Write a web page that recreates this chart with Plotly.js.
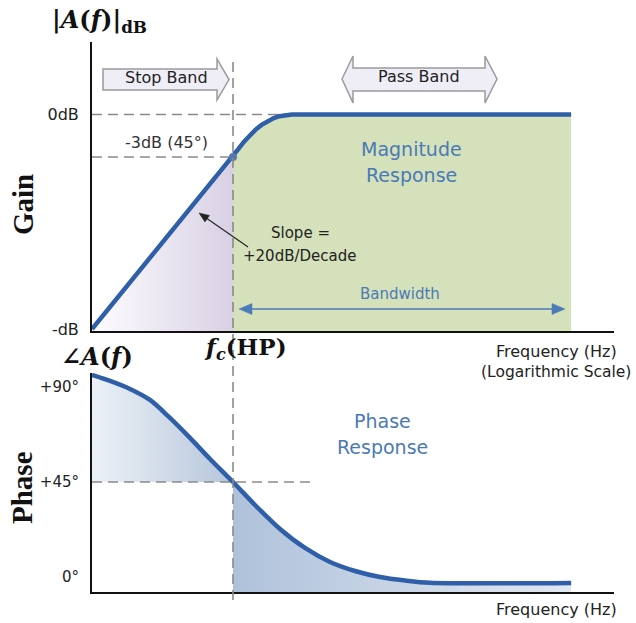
<!DOCTYPE html>
<html>
<head>
<meta charset="utf-8">
<script src="https://cdn.plot.ly/plotly-3.0.1.min.js"></script>
<style>html,body{margin:0;padding:0;background:#fff;}#chart{width:636px;height:623px;}</style>
</head>
<body>
<div id="chart"></div>
<script>
// ---- data ----
const fc = 1;                                   // cut-off frequency (normalised)
const magFreq = [0.1, 1.0, 1.093, 1.197, 1.313, 1.442, 1.586, 1.748, 1.930, 2.134, 2.363, 2.62, 250];
const magDb   = [-15.14, -3.0, -2.43, -1.92, -1.47, -1.08, -0.75, -0.48, -0.27, -0.12, -0.03, 0, 0];
const phaseFreq = [0.1, 0.1342, 0.186, 0.2578, 0.3574, 0.4955, 0.6869, 1.0, 1.432, 2.154, 3.241, 4.875, 7.335, 11.03, 16.6, 24.96, 250];
const phaseDeg  = [95.7, 92.85, 89.06, 83.85, 75.32, 65.85, 55.9, 45.0, 34.11, 22.74, 13.74, 7.11, 2.84, 0.0, -1.66, -2.75, -2.8];
const magTickVals = [0, -15.2];
const magTickText = ['0dB', '-dB'];
const phaseTickVals = [90, 45, 0];
const phaseTickText = ['+90°', '+45°', '0°'];

// ---- axes ----
const xRange = [-1, 2.702];
const magRange = [-15.28, 5.12];
const phaseRange = [-7.1, 96.6];

const blue = '#2f5fa8';
const dashCol = '#8a8a8a';
const textBlue = '#4a7ab5';

function sub(fArr, vArr, test) {
  const x = [], y = [];
  fArr.forEach((f, i) => { if (test(f)) { x.push(f); y.push(vArr[i]); } });
  return {x, y};
}
const magLo = sub(magFreq, magDb, f => f <= fc);
const magHi = sub(magFreq, magDb, f => f >= fc);
const phLo = sub(phaseFreq, phaseDeg, f => f <= fc);
const phHi = sub(phaseFreq, phaseDeg, f => f >= fc);
const fMin = magFreq[0], fMax = magFreq[magFreq.length - 1];

const base = {mode: 'lines', hoverinfo: 'skip', showlegend: false};
const traces = [
  // magnitude: purple stop-band area
  Object.assign({}, base, {x: [fMin, fc], y: [magRange[0], magRange[0]], line: {width: 0}, xaxis: 'x', yaxis: 'y'}),
  Object.assign({}, base, {x: magLo.x, y: magLo.y, line: {width: 0}, fill: 'tonexty',
    fillgradient: {type: 'horizontal', colorscale: [[0, '#fefdff'], [1, '#d8d0e4']]}, xaxis: 'x', yaxis: 'y'}),
  // magnitude: green pass-band area
  Object.assign({}, base, {x: [fc, fMax], y: [magRange[0], magRange[0]], line: {width: 0}, xaxis: 'x', yaxis: 'y'}),
  Object.assign({}, base, {x: magHi.x, y: magHi.y, line: {width: 0}, fill: 'tonexty', fillcolor: '#d5e1bb', xaxis: 'x', yaxis: 'y'}),
  // phase: left area (curve to +45°)
  Object.assign({}, base, {x: [fMin, fc], y: [45, 45], line: {width: 0}, xaxis: 'x2', yaxis: 'y2'}),
  Object.assign({}, base, {x: phLo.x, y: phLo.y, line: {width: 0, shape: 'spline', smoothing: 0.8}, fill: 'tonexty',
    fillgradient: {type: 'horizontal', colorscale: [[0, '#edf1f7'], [1, '#b6c6dc']]}, xaxis: 'x2', yaxis: 'y2'}),
  // phase: right area (curve to axis)
  Object.assign({}, base, {x: [fc, fMax], y: [phaseRange[0], phaseRange[0]], line: {width: 0}, xaxis: 'x2', yaxis: 'y2'}),
  Object.assign({}, base, {x: phHi.x, y: phHi.y, line: {width: 0, shape: 'spline', smoothing: 0.8}, fill: 'tonexty',
    fillgradient: {type: 'horizontal', colorscale: [[0, '#afc2db'], [1, '#e2e8f1']]}, xaxis: 'x2', yaxis: 'y2'}),
  // dashed reference lines
  Object.assign({}, base, {x: [fMin, 2.6], y: [0, 0], line: {color: dashCol, width: 1.6, dash: '10px,6px'}, xaxis: 'x', yaxis: 'y'}),
  Object.assign({}, base, {x: [fMin, fc], y: [-3, -3], line: {color: dashCol, width: 1.6, dash: '10px,6px'}, xaxis: 'x', yaxis: 'y'}),
  Object.assign({}, base, {x: [fMin, 3.6], y: [45, 45], line: {color: dashCol, width: 1.6, dash: '10px,6px'}, xaxis: 'x2', yaxis: 'y2'}),
  // main curves
  Object.assign({}, base, {x: magFreq, y: magDb, line: {color: blue, width: 4.5}, xaxis: 'x', yaxis: 'y'}),
  Object.assign({}, base, {x: phaseFreq, y: phaseDeg, line: {color: blue, width: 4.5, shape: 'spline', smoothing: 0.8}, xaxis: 'x2', yaxis: 'y2'}),
  // -3dB point
  {x: [fc], y: [-3], mode: 'markers', marker: {color: '#5678a8', size: 8}, hoverinfo: 'skip', showlegend: false, xaxis: 'x', yaxis: 'y'}
];

// pixel -> paper helpers for decorations
const L = 92, R = 614, T = 42, B = 592;
const PX = x => (x - L) / (R - L);
const PY = y => (B - y) / (B - T);
const fcPaper = (Math.log10(fc) - xRange[0]) / (xRange[1] - xRange[0]);

const sans = 'DejaVu Sans, Arial, sans-serif';
const serif = 'Liberation Serif, Times New Roman, serif';
const mathF = 'DejaVu Serif, serif';

function txt(x, y, text, size, color, family, extra) {
  return Object.assign({xref: 'paper', yref: 'paper', x: PX(x), y: PY(y), text: text, showarrow: false,
    xanchor: 'center', yanchor: 'middle', font: {size: size, color: color, family: family}}, extra || {});
}

const annotations = [
  txt(99, 21, '<b>|<i>A</i>(<i>f</i>)|</b><sub><b>dB</b></sub>', 24, '#111', mathF),
  txt(23, 205, '<b>Gain</b>', 29, '#111', serif, {textangle: -90}),
  txt(22, 488, '<b>Phase</b>', 29, '#111', serif, {textangle: -90}),
  txt(97, 356, '<b>∠<i>A</i>(<i>f</i>)</b>', 24, '#111', mathF),
  txt(245, 349, '<b><i>f</i><sub><i>c</i></sub>(HP)</b>', 23, '#111', mathF),
  txt(166, 78, 'Stop Band', 16, '#222', sans),
  txt(419, 77, 'Pass Band', 16, '#222', sans),
  txt(166, 143, '-3dB (45°)', 16, '#333', sans),
  txt(411, 149, 'Magnitude', 19, textBlue, sans),
  txt(411, 175, 'Response', 19, textBlue, sans),
  txt(300, 233, 'Slope =', 15, '#222', sans),
  txt(300, 256, '+20dB/Decade', 15, '#222', sans),
  txt(400, 294, 'Bandwidth', 15, textBlue, sans),
  txt(382, 421, 'Phase', 19, textBlue, sans),
  txt(382, 447, 'Response', 19, textBlue, sans),
  txt(556, 351, 'Frequency (Hz)', 16, '#222', sans),
  txt(556, 372, '(Logarithmic Scale)', 15.5, '#222', sans),
  txt(556, 609, 'Frequency (Hz)', 16, '#222', sans)
];

function path(pts, close) {
  return 'M' + pts.map(p => PX(p[0]).toFixed(4) + ',' + PY(p[1]).toFixed(4)).join(' L') + (close === false ? '' : ' Z');
}
// arrow head triangle at tip, pointing away from "from"
function head(tip, from, len, half) {
  const dx = tip[0] - from[0], dy = tip[1] - from[1];
  const d = Math.hypot(dx, dy), ux = dx / d, uy = dy / d;
  const bx = tip[0] - ux * len, by = tip[1] - uy * len;
  return [tip, [bx - uy * half, by + ux * half], [bx + uy * half, by - ux * half]];
}
const slopeTip = [199, 213], slopeTail = [248, 247];
const bwL = [239, 309], bwR = [565, 309];
const bwCol = '#4a7ab8';

const shapes = [
  // fc vertical dashed line spanning both panels
  {type: 'line', xref: 'paper', yref: 'paper', x0: fcPaper, x1: fcPaper, y0: PY(600), y1: PY(60),
    line: {color: dashCol, width: 1.6, dash: '10px,6px'}, layer: 'above'},
  // Stop Band block arrow
  {type: 'path', xref: 'paper', yref: 'paper', layer: 'above',
    path: path([[103, 69], [217, 69], [217, 59], [229, 79.5], [217, 100], [217, 90], [103, 90]]),
    fillcolor: '#efeef6', line: {color: '#9a9a9a', width: 1.5}},
  // Pass Band double block arrow
  {type: 'path', xref: 'paper', yref: 'paper', layer: 'above',
    path: path([[342, 79], [353, 56], [353, 68], [485, 68], [485, 56], [497, 79], [485, 103], [485, 91], [353, 91], [353, 103]]),
    fillcolor: '#efeef6', line: {color: '#9a9a9a', width: 1.5}},
  // slope arrow
  {type: 'path', xref: 'paper', yref: 'paper', layer: 'above',
    path: path([slopeTail, [slopeTip[0] + 4, slopeTip[1] + 2.8]], false), line: {color: '#222', width: 1.1}},
  {type: 'path', xref: 'paper', yref: 'paper', layer: 'above',
    path: path(head(slopeTip, slopeTail, 10, 4)), fillcolor: '#222', line: {color: '#222', width: 0.5}},
  // bandwidth double arrow
  {type: 'path', xref: 'paper', yref: 'paper', layer: 'above',
    path: path([[bwL[0] + 8, bwL[1]], [bwR[0] - 8, bwR[1]]], false), line: {color: bwCol, width: 1.6}},
  {type: 'path', xref: 'paper', yref: 'paper', layer: 'above',
    path: path(head(bwL, bwR, 13, 5.5)), fillcolor: bwCol, line: {color: bwCol, width: 0.5}},
  {type: 'path', xref: 'paper', yref: 'paper', layer: 'above',
    path: path(head(bwR, bwL, 13, 5.5)), fillcolor: bwCol, line: {color: bwCol, width: 0.5}}
];

const xCommon = {type: 'log', range: xRange, showticklabels: false, ticks: '', showgrid: false, zeroline: false,
  showline: true, linecolor: '#111', linewidth: 2, fixedrange: true};
const yCommon = {showgrid: false, zeroline: false, showline: true, linecolor: '#111', linewidth: 2, ticks: '',
  ticklabelstandoff: 8, fixedrange: true};

const layout = {
  width: 636, height: 623,
  margin: {l: L, r: 636 - R, t: T, b: 623 - B},
  paper_bgcolor: '#ffffff', plot_bgcolor: 'rgba(0,0,0,0)',
  showlegend: false,
  xaxis: Object.assign({}, xCommon, {anchor: 'y', domain: [0, 1]}),
  xaxis2: Object.assign({}, xCommon, {anchor: 'y2', domain: [0, 1]}),
  yaxis: Object.assign({}, yCommon, {anchor: 'x', domain: [(B - 331) / (B - T), 1], range: magRange,
    tickvals: magTickVals, ticktext: magTickText, tickfont: {family: sans, size: 16, color: '#222'}}),
  yaxis2: Object.assign({}, yCommon, {anchor: 'x2', domain: [0, (B - 373) / (B - T)], range: phaseRange,
    tickvals: phaseTickVals, ticktext: phaseTickText, tickfont: {family: sans, size: 15, color: '#222'}}),
  annotations: annotations,
  shapes: shapes
};

Plotly.newPlot('chart', traces, layout, {displayModeBar: false, staticPlot: true});
</script>
</body>
</html>
